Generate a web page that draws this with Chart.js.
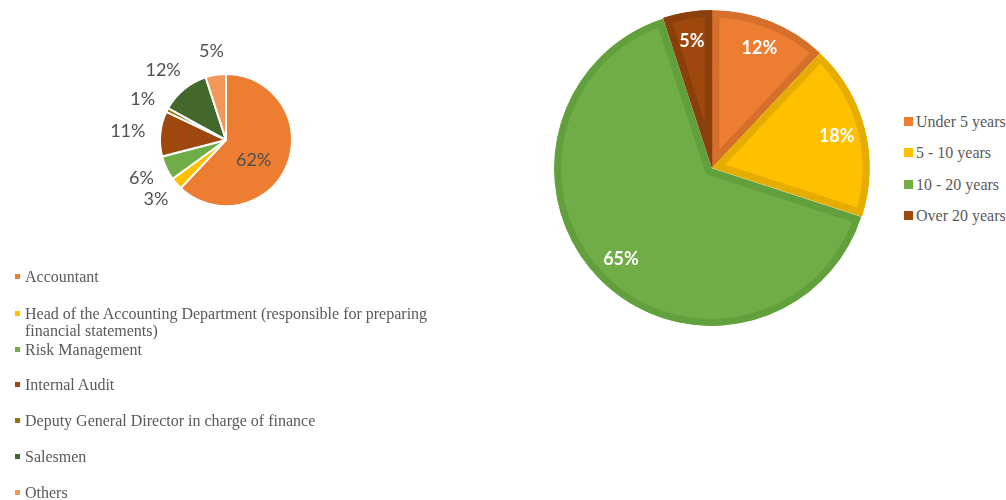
<!DOCTYPE html>
<html>
<head>
<meta charset="utf-8">
<script src="https://cdn.jsdelivr.net/npm/chart.js@4.4.1/dist/chart.umd.min.js"></script>
<style>
  html, body { margin: 0; padding: 0; background: #fff; }
  body { width: 1006px; height: 500px; overflow: hidden; position: relative; font-family: "Liberation Serif", "Times New Roman", serif; }
  #leftWrap { position: absolute; left: 96px; top: 10px; width: 260px; height: 260px; }
  #rightWrap { position: absolute; left: 540px; top: 0px; width: 344px; height: 336px; }
  .legend { position: absolute; color: #595959; font-size: 16px; line-height: 17px; }
  .litem { position: absolute; white-space: nowrap; }
  .sq { position: absolute; }
</style>
</head>
<body>
<div id="leftWrap"><canvas id="leftChart" width="260" height="260"></canvas></div>
<div id="rightWrap"><canvas id="rightChart" width="344" height="336"></canvas></div>
<div id="leftLegend" class="legend"></div>
<div id="rightLegend" class="legend"></div>
<script>
// ---- Data ----
const positionLabels = [
  "Accountant",
  "Head of the Accounting Department (responsible for preparing financial statements)",
  "Risk Management",
  "Internal Audit",
  "Deputy General Director in charge of finance",
  "Salesmen",
  "Others"
];
const positionValues = [62, 3, 6, 11, 1, 12, 5];
const positionColors = ["#ED7D31", "#FFC000", "#70AD47", "#9E480E", "#997300", "#43682B", "#F1975A"];

const experienceLabels = ["Under 5 years", "5 - 10 years", "10 - 20 years", "Over 20 years"];
const experienceValues = [12, 18, 65, 5];
const experienceColors = ["#ED7D31", "#FFC000", "#70AD47", "#9E480E"];
const experienceBorders = ["#D5702C", "#E5AD00", "#62A03D", "#8A3F0C"];

// ---- Label plugins (positions from the arc elements) ----
const leftLabelPlugin = {
  id: 'leftLabels',
  afterDatasetsDraw(chart) {
    const ctx = chart.ctx;
    const meta = chart.getDatasetMeta(0);
    const data = chart.data.datasets[0].data;
    ctx.save();
    ctx.font = '18px Lato';
    ctx.fillStyle = '#505050';
    ctx.textAlign = 'center';
    ctx.textBaseline = 'middle';
    meta.data.forEach((arc, i) => {
      const p = arc.getProps(['x', 'y', 'startAngle', 'endAngle', 'outerRadius'], true);
      const mid = (p.startAngle + p.endAngle) / 2;
      const dx = Math.cos(mid), dy = Math.sin(mid);
      const txt = data[i] + '%';
      let x, y;
      if (i === 0) {
        const pos = arc.tooltipPosition(true);
        x = pos.x - 3; y = pos.y + 8;
      } else {
        const w = ctx.measureText(txt).width;
        const h = 18;
        const rr = p.outerRadius + 15;
        x = p.x + dx * rr + dx * w / 2;
        y = p.y + dy * rr + dy * h / 2;
      }
      ctx.fillText(txt, x, y);
    });
    ctx.restore();
  }
};

const rightLabelPlugin = {
  id: 'rightLabels',
  afterDatasetsDraw(chart) {
    const ctx = chart.ctx;
    const meta = chart.getDatasetMeta(0);
    const data = chart.data.datasets[0].data;
    ctx.save();
    ctx.font = 'bold 18px Lato';
    ctx.fillStyle = '#ffffff';
    ctx.textAlign = 'center';
    ctx.textBaseline = 'middle';
    meta.data.forEach((arc, i) => {
      const p = arc.getProps(['x', 'y', 'startAngle', 'endAngle', 'outerRadius'], true);
      const mid = (p.startAngle + p.endAngle) / 2;
      const rr = p.outerRadius * 0.82;
      ctx.fillText(data[i] + '%', p.x + Math.cos(mid) * rr, p.y + Math.sin(mid) * rr);
    });
    ctx.restore();
  }
};

const common = {
  responsive: false,
  animation: false,
  events: [],
  plugins: { legend: { display: false }, tooltip: { enabled: false } },
  layout: { padding: 0 }
};

new Chart(document.getElementById('leftChart'), {
  type: 'pie',
  data: {
    labels: positionLabels,
    datasets: [{
      data: positionValues,
      backgroundColor: positionColors,
      borderColor: '#ffffff',
      borderWidth: 2,
      hoverOffset: 0
    }]
  },
  options: Object.assign({}, common, { radius: 66 }),
  plugins: [leftLabelPlugin]
});

new Chart(document.getElementById('rightChart'), {
  type: 'pie',
  data: {
    labels: experienceLabels,
    datasets: [{
      data: experienceValues,
      backgroundColor: experienceColors,
      borderColor: experienceBorders,
      borderWidth: 7,
      borderAlign: 'inner',
      offset: 3,
      hoverOffset: 0
    }]
  },
  options: Object.assign({}, common, { radius: 157 }),
  plugins: [rightLabelPlugin]
});

// ---- Legends (built from the arrays) ----
const leftLegendY = [268, 305, 341, 376, 412, 448, 484];
const leftLegend = document.getElementById('leftLegend');
leftLegend.style.left = '0px'; leftLegend.style.top = '0px';
positionLabels.forEach((lab, i) => {
  const sq = document.createElement('div');
  sq.className = 'sq';
  sq.style.cssText = `left:15px;top:${leftLegendY[i] + 6}px;width:5px;height:5px;background:${positionColors[i]};`;
  leftLegend.appendChild(sq);
  const t = document.createElement('div');
  t.className = 'litem';
  t.style.cssText = `left:25px;top:${leftLegendY[i]}px;width:440px;white-space:normal;`;
  t.textContent = lab;
  leftLegend.appendChild(t);
});

const rightLegendY = [113, 144, 176, 207];
const rightLegend = document.getElementById('rightLegend');
rightLegend.style.left = '0px'; rightLegend.style.top = '0px';
experienceLabels.forEach((lab, i) => {
  const sq = document.createElement('div');
  sq.className = 'sq';
  sq.style.cssText = `left:904px;top:${rightLegendY[i] + 4}px;width:9px;height:9px;background:${experienceColors[i]};`;
  rightLegend.appendChild(sq);
  const t = document.createElement('div');
  t.className = 'litem';
  t.style.cssText = `left:916px;top:${rightLegendY[i]}px;`;
  t.textContent = lab;
  rightLegend.appendChild(t);
});
</script>
</body>
</html>
